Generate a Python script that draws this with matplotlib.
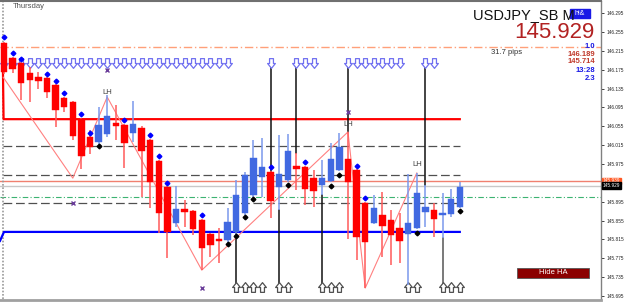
import matplotlib
matplotlib.use("Agg")
import matplotlib.pyplot as plt
from matplotlib.patches import Rectangle
from matplotlib.path import Path
import numpy as np

plt.rcParams['font.family'] = ['Liberation Sans', 'DejaVu Sans']

# ---------------- data ----------------
opens = [146.231, 146.200, 146.189, 146.168, 146.159, 146.157, 146.142, 146.115, 146.106, 146.070,
         146.032, 146.022, 146.039, 146.062, 146.058, 146.041, 146.051, 146.026, 145.981, 145.926,
         145.850, 145.880, 145.875, 145.856, 145.827, 145.816, 145.814, 145.831, 145.871, 145.909,
         145.947, 145.958, 145.926, 145.941, 145.971, 145.969, 145.945, 145.930, 145.939, 145.962,
         145.986, 145.962, 145.892, 145.850, 145.867, 145.856, 145.839, 145.827, 145.839, 145.873,
         145.877, 145.867, 145.869, 145.884]
highs = [146.233, 146.202, 146.191, 146.181, 146.170, 146.159, 146.144, 146.117, 146.108, 146.072,
         146.047, 146.096, 146.121, 146.100, 146.060, 146.109, 146.055, 146.028, 145.983, 145.928,
         145.928, 145.899, 145.877, 145.858, 145.829, 145.839, 145.882, 145.941, 145.958, 146.026,
         146.030, 145.960, 146.036, 146.039, 145.998, 145.971, 145.962, 145.983, 146.019, 146.041,
         146.043, 145.964, 145.894, 145.909, 145.916, 145.877, 145.871, 145.954, 145.956, 145.930,
         145.892, 145.913, 145.922, 145.937]
lows = [146.165, 146.168, 146.111, 146.106, 146.134, 146.115, 146.053, 146.085, 146.026, 145.964,
        145.996, 146.016, 146.032, 146.026, 145.966, 146.022, 145.905, 145.882, 145.829, 145.776,
        145.841, 145.841, 145.824, 145.750, 145.778, 145.765, 145.803, 145.824, 145.867, 145.905,
        145.905, 145.860, 145.877, 145.937, 145.920, 145.888, 145.884, 145.909, 145.937, 145.960,
        145.816, 145.771, 145.712, 145.848, 145.778, 145.761, 145.765, 145.718, 145.837, 145.841,
        145.820, 145.818, 145.863, 145.882]
closes = [146.170, 146.176, 146.147, 146.153, 146.151, 146.128, 146.089, 146.096, 146.034, 145.992,
          146.011, 146.058, 146.077, 146.055, 146.019, 146.060, 146.002, 145.937, 145.871, 145.831,
          145.880, 145.873, 145.837, 145.797, 145.803, 145.812, 145.852, 145.909, 145.952, 145.988,
          145.969, 145.896, 145.954, 146.002, 145.964, 145.922, 145.918, 145.945, 145.986, 146.011,
          145.937, 145.820, 145.810, 145.882, 145.843, 145.824, 145.812, 145.850, 145.913, 145.884,
          145.858, 145.871, 145.901, 145.926]

# signal dots
sell_dot_idx = [0, 1, 2, 5, 6, 7, 9, 10, 14, 17, 18, 19, 23, 31, 35, 41, 42]
sell_dot_px = [146.244, 146.210, 146.198, 146.166, 146.151, 146.125, 146.081, 146.041, 146.068,
               146.036, 145.992, 145.935, 145.867, 145.969, 145.979, 145.971, 145.903]
buy_dot_idx = [11, 26, 27, 28, 29, 33, 38, 39, 48, 53]
buy_dot_px = [146.013, 145.805, 145.822, 145.863, 145.901, 145.930, 145.928, 145.952, 145.829, 145.875]

# arrows
down_arrow_idx = list(range(0, 27)) + [31, 34, 35, 36] + list(range(40, 47)) + [49, 50]
down_arrow_px = 146.189
up_arrow_idx = [27, 28, 29, 30, 32, 33, 37, 38, 39, 47, 48, 51, 52, 53]
up_arrow_px = 145.714

# vertical signal lines
top_line_idx = [31, 34, 40, 49]
top_line_end = [145.958, 145.998, 146.043, 145.930]
bot_line_idx = [27, 32, 37, 47, 51]
bot_line_start = [145.873, 145.877, 145.909, 145.718, 145.818]

# zigzag
zz_idx = [-0.1, 8.0, 12.0, 23.0, 40.0, 42.0, 48.0]
zz_px = [146.159, 145.945, 146.117, 145.750, 146.043, 145.712, 145.956]
lh_idx = [12.0, 40.0, 48.0]
lh_px = [146.126, 146.058, 145.973]
x_idx = [12.0, 8.0, 23.0, 40.0]
x_px = [146.174, 145.892, 145.712, 146.085]

# levels
res_levels = [146.170, 146.070]
sup_levels = [145.812, 145.831]
dashed_levels = [146.013, 145.952, 145.892]
orange_level = 146.223
salmon_level = 145.939
bid_level = 145.929
green_level = 145.905

yticks = [146.295, 146.255, 146.215, 146.175, 146.135, 146.095, 146.055, 146.015, 145.975,
          145.895, 145.855, 145.815, 145.775, 145.735, 145.695]

# ---------------- figure ----------------
W, H = 625, 302
fig = plt.figure(figsize=(W / 100, H / 100), dpi=100)
ax = fig.add_axes([0, 3 / H, 601 / W, 298 / H])
n = len(opens)
ax.set_xlim(-0.465, 69.42)
ax.set_ylim(145.6888, 146.3205)
last = n - 1

# horizontal levels
ax.axhline(orange_level, color='#FFA07A', lw=1.0, ls=(0, (6, 2, 1, 2)), zorder=1)
ax.axhline(salmon_level, color='#F08070', lw=1.0, zorder=1)
ax.axhline(bid_level, color='#C8C8C8', lw=1.0, zorder=1)
ax.axhline(green_level, color='#3CB371', lw=0.8, ls=(0, (5, 2, 1, 2)), zorder=1)
for lv in dashed_levels:
    ax.plot([-0.1, last], [lv, lv], color='#505050', lw=0.9, ls=(0, (7, 3)), zorder=1)
ax.plot([-0.12, -0.05, last], [res_levels[0], res_levels[1], res_levels[1]],
        color='#FF0000', lw=1.6, zorder=2)
ax.plot([-0.465, 0.0, last], [sup_levels[0], sup_levels[1], sup_levels[1]],
        color='#0000FF', lw=1.6, zorder=2)

# left dotted separator
ax.axvline(-0.1, color='#999999', lw=1.2, ls=(0, (1, 1)), zorder=1)

# zigzag
ax.plot(zz_idx, zz_px, color='#FF8080', lw=0.8, zorder=3)

# vertical signal lines
for i, e in zip(top_line_idx, top_line_end):
    ax.plot([i, i], [down_arrow_px, e], color='#111111', lw=1.1, zorder=2)
for k, (i, s) in enumerate(zip(bot_line_idx, bot_line_start)):
    c = '#555555' if k == len(bot_line_idx) - 1 else '#111111'
    ax.plot([i, i], [s, up_arrow_px], color=c, lw=1.1, zorder=2)

# candles
for i in range(n):
    o, h, l, c = opens[i], highs[i], lows[i], closes[i]
    bull = c >= o
    body_c = '#4169E1' if bull else '#FF0000'
    wick_c = '#7B98EC' if bull else '#FF5A5A'
    ax.vlines(i, l, h, color=wick_c, lw=1.1, zorder=4)
    ax.bar(i, max(abs(c - o), 0.0015), bottom=min(o, c), width=0.74,
           color=body_c, edgecolor=body_c, lw=0.3, zorder=5)

# dots
ax.plot(sell_dot_idx, sell_dot_px, ls='none', marker='D', ms=2.4, color='#0000FF', zorder=6)
ax.plot(buy_dot_idx, buy_dot_px, ls='none', marker='D', ms=2.4, color='#000000', zorder=6)

# hollow arrow markers
down_verts = [(-0.2, 0.5), (0.2, 0.5), (0.2, 0.0), (0.4, 0.0), (0.0, -0.5),
              (-0.4, 0.0), (-0.2, 0.0), (-0.2, 0.5)]
down_path = Path(down_verts, [Path.MOVETO] + [Path.LINETO] * 6 + [Path.CLOSEPOLY])
up_path = Path([(vx, -vy) for vx, vy in down_verts], [Path.MOVETO] + [Path.LINETO] * 6 + [Path.CLOSEPOLY])
ax.plot(down_arrow_idx, [down_arrow_px] * len(down_arrow_idx), ls='none', marker=down_path,
        ms=7, mfc='white', mec='#7070F0', mew=0.9, zorder=3)
ax.plot(up_arrow_idx, [up_arrow_px] * len(up_arrow_idx), ls='none', marker=up_path,
        ms=7, mfc='white', mec='#505050', mew=0.9, zorder=3)

# LH labels and x markers
for i, p in zip(lh_idx, lh_px):
    ax.text(i, p, 'LH', ha='center', va='center', fontsize=5.5, color='#404040', zorder=7)
ax.plot(x_idx, x_px, ls='none', marker='x', ms=3.5, mew=1.0, color='#6A3D9A', zorder=7)

# axes styling
for s in ['left', 'bottom']:
    ax.spines[s].set_visible(False)
ax.spines['right'].set_color('#808080')
ax.spines['right'].set_linewidth(1.0)
ax.spines['top'].set_color('#707070')
ax.spines['top'].set_linewidth(1.5)
ax.set_xticks([])
ax.yaxis.tick_right()
ax.set_yticks(yticks)
ax.set_yticklabels([f'{v:.3f}' for v in yticks])
ax.tick_params(axis='y', labelsize=3.4, length=2.5, width=0.6, pad=1.2, colors='#222222')

# bottom border
fig.add_artist(plt.Line2D([0, 601 / W], [2 / H, 2 / H], color='#A0A0A0', lw=2))

# price boxes on axis
def price_box(p, txt, fc):
    ax.annotate(txt, xy=(1.0, p), xycoords=('axes fraction', 'data'),
                xytext=(1.2, 0), textcoords='offset points', ha='left', va='center',
                fontsize=3.4, color='white', annotation_clip=False,
                bbox=dict(boxstyle='square,pad=0.2', fc=fc, ec=fc))
price_box(salmon_level, '145.939', '#FF5722')
price_box(bid_level, '145.929', '#000000')

# texts
fig.text(13 / W, 1 - 6 / H, 'Thursday', fontsize=5.5, color='#555555', va='center', ha='left')
fig.text(473 / W, 1 - 15 / H, 'USDJPY_SB M', fontsize=10.5, color='#111111', va='center', ha='left')
fig.add_artist(Rectangle((570 / W, 1 - 18 / H), 20 / W, 9 / H, transform=fig.transFigure,
                         fc='#1A1AE6', ec='#1A1AE6'))
fig.text(580 / W, 1 - 13.5 / H, 'hi&', fontsize=5, color='white', va='center', ha='center')
fig.text(594 / W, 1 - 32 / H, '145.929', fontsize=16, color='#B22222', va='center', ha='right')
fig.text(491 / W, 1 - 52 / H, '31.7 pips', fontsize=5.5, color='#333333', va='center', ha='left')
side_txt = ['1.0', '146.189', '145.714', '13:28', '2.3']
side_col = ['#1A1AE6', '#C0392B', '#C0392B', '#1A1AE6', '#1A1AE6']
side_y = [46, 54, 62, 70, 79]
for t, c, yy in zip(side_txt, side_col, side_y):
    fig.text(595 / W, 1 - yy / H, t, fontsize=5.5, color=c, va='center', ha='right', fontweight='bold')

# Hide HA button
fig.add_artist(Rectangle((517 / W, (H - 278) / H), 72 / W, 10 / H, transform=fig.transFigure,
                         fc='#8B0000', ec='#555555', lw=0.6))
fig.text(553 / W, (H - 273) / H, 'Hide HA', fontsize=5.5, color='white', va='center', ha='center')

fig.savefig('out.png', dpi=100)
